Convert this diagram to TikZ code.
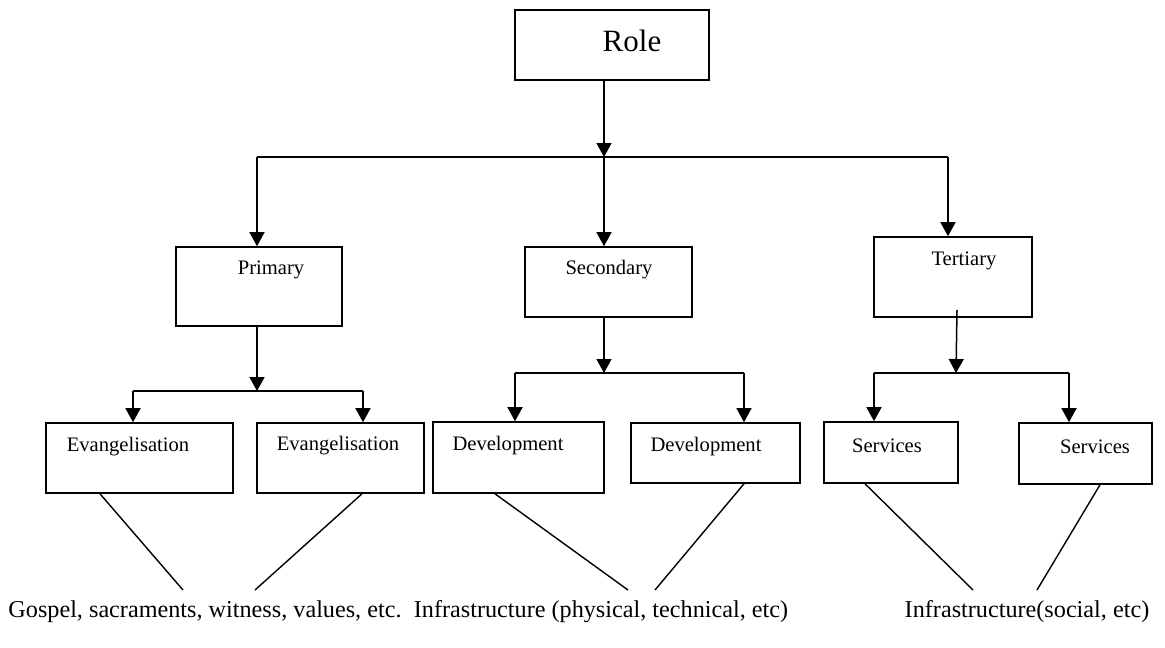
\documentclass[tikz,border=0pt]{standalone}
\usepackage{fontspec}
\setmainfont{Liberation Serif}
\usetikzlibrary{arrows.meta}

\tikzset{
  box/.style={draw, line width=1.6pt, inner sep=0pt},
  boxtext/.style={font=\fontsize{20.6}{24}\selectfont, inner sep=0pt},
  roletext/.style={font=\fontsize{31}{36}\selectfont, inner sep=0pt},
  foot/.style={font=\fontsize{24.2}{28}\selectfont, inner sep=0pt},
  link/.style={line width=1.5pt, -{Triangle[width=15pt,length=14pt]}},
  rail/.style={line width=1.5pt},
  spoke/.style={line width=1.4pt}
}

\begin{document}
\begin{tikzpicture}[x=1pt, y=-1pt]
  \useasboundingbox[fill=white] (0,0) rectangle (1165,648);

  % boxes, placed by centre and size
  \node[box, minimum width=194pt, minimum height=70pt] (role) at (612,45) {};
  \node[box, minimum width=166pt, minimum height=79pt] (prim) at (259,286.5) {};
  \node[box, minimum width=167pt, minimum height=70pt] (sec)  at (608.5,282) {};
  \node[box, minimum width=158pt, minimum height=80pt] (ter)  at (953,277) {};
  \node[box, minimum width=187pt, minimum height=70pt] (ev1)  at (139.5,458) {};
  \node[box, minimum width=167pt, minimum height=70pt] (ev2)  at (340.5,458) {};
  \node[box, minimum width=171pt, minimum height=71pt] (dev1) at (518.5,457.5) {};
  \node[box, minimum width=169pt, minimum height=60pt] (dev2) at (715.5,453) {};
  \node[box, minimum width=134pt, minimum height=61pt] (ser1) at (891,452.5) {};
  \node[box, minimum width=133pt, minimum height=61pt] (ser2) at (1085.5,453.5) {};

  % box labels
  \node[roletext] (roleT) at (632,41) {Role};
  \node[boxtext] (primT) at (271,270) {Primary};
  \node[boxtext] (secT)  at (609,270) {Secondary};
  \node[boxtext] (terT)  at (964,261) {Tertiary};
  \node[boxtext] (ev1T)  at (128,447) {Evangelisation};
  \node[boxtext] (ev2T)  at (338,446) {Evangelisation};
  \node[boxtext] (dev1T) at (508,446) {Development};
  \node[boxtext] (dev2T) at (706,447) {Development};
  \node[boxtext] (ser1T) at (887,446) {Services};
  \node[boxtext] (ser2T) at (1095,447) {Services};

  % footnotes under the groups
  \node[foot] (gospel) at (205,612) {Gospel, sacraments, witness, values, etc.};
  \node[foot] (infra1) at (601,612) {Infrastructure (physical, technical, etc)};
  \node[foot] (infra2) at (1027,612) {Infrastructure(social, etc)};

  % junction points of the branching rails
  \coordinate (top)  at (604,157);
  \coordinate (topL) at (257,157);
  \coordinate (topR) at (948,157);
  \coordinate (pj)   at (257,391);
  \coordinate (pjL)  at (133,391);
  \coordinate (pjR)  at (363,391);
  \coordinate (sj)   at (604,373);
  \coordinate (sjL)  at (515,373);
  \coordinate (sjR)  at (744,373);
  \coordinate (tstart) at (957,310);
  \coordinate (tj)   at (956,373);
  \coordinate (tjL)  at (874,373);
  \coordinate (tjR)  at (1069,373);

  % free ends of the spokes above the footnotes
  \coordinate (g1) at (183,590);
  \coordinate (g2) at (255,590);
  \coordinate (i1) at (628,590);
  \coordinate (i2) at (655,590);
  \coordinate (s1) at (973,590);
  \coordinate (s2) at (1037,590);

  % Role to the three levels
  \draw[link] (role.south -| top) -- (top);
  \draw[rail] (topL) -- (topR);
  \draw[link] (topL) -- (prim.north -| topL);
  \draw[link] (top) -- (sec.north -| top);
  \draw[link] (topR) -- (ter.north -| topR);

  % Primary
  \draw[link] (prim.south -| pj) -- (pj);
  \draw[rail] (pjL) -- (pjR);
  \draw[link] (pjL) -- (ev1.north -| pjL);
  \draw[link] (pjR) -- (ev2.north -| pjR);

  % Secondary
  \draw[link] (sec.south -| sj) -- (sj);
  \draw[rail] (sjL) -- (sjR);
  \draw[link] (sjL) -- (dev1.north -| sjL);
  \draw[link] (sjR) -- (dev2.north -| sjR);

  % Tertiary
  \draw[link] (tstart) -- (tj);
  \draw[rail] (tjL) -- (tjR);
  \draw[link] (tjL) -- (ser1.north -| tjL);
  \draw[link] (tjR) -- (ser2.north -| tjR);

  % spokes down to the footnotes
  \draw[spoke] (ev1.south -| 100,0) -- (g1);
  \draw[spoke] (ev2.south -| 362,0) -- (g2);
  \draw[spoke] (dev1.south -| 495,0) -- (i1);
  \draw[spoke] (dev2.south -| 744,0) -- (i2);
  \draw[spoke] (ser1.south -| 865,0) -- (s1);
  \draw[spoke] (ser2.south -| 1100,0) -- (s2);
\end{tikzpicture}
\end{document}
